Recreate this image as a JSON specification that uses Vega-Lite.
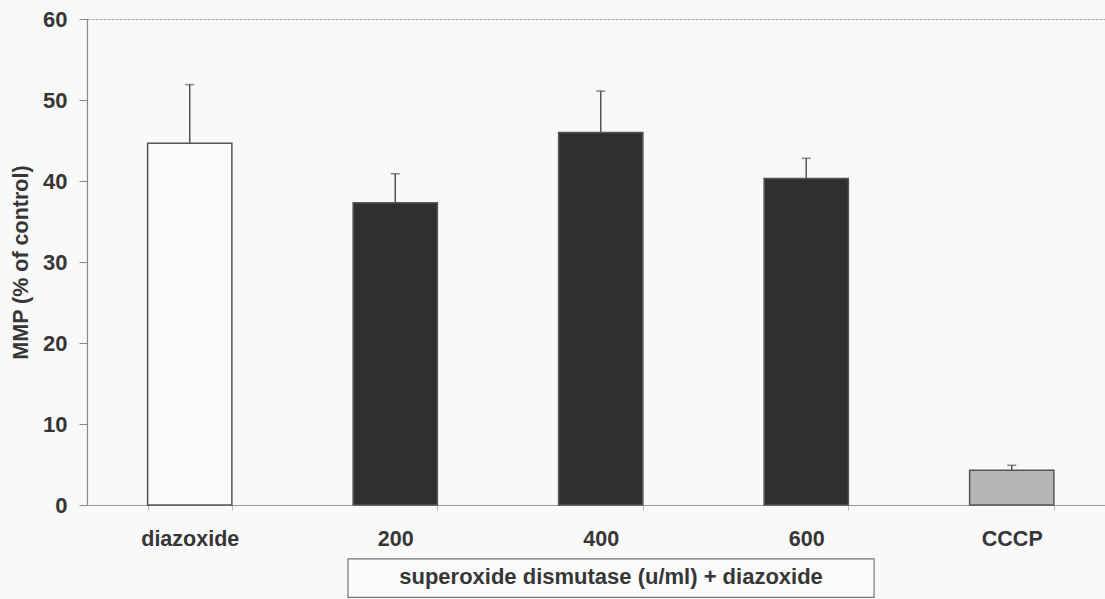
{
  "$schema": "https://vega.github.io/schema/vega-lite/v6.json",
  "autosize": "none",
  "width": 1018,
  "height": 486,
  "padding": {"left": 87, "top": 19, "right": 0, "bottom": 94},
  "background": "#f9f9f9",
  "config": {"view": {"stroke": null}, "font": "Liberation Sans"},
  "layer": [
    {
      "data": {"values": [
        {"group": "diazoxide", "kind": "diazoxide", "value": 44.65, "upper": 51.9},
        {"group": "200", "kind": "SOD", "value": 37.3, "upper": 40.9},
        {"group": "400", "kind": "SOD", "value": 46.0, "upper": 51.1},
        {"group": "600", "kind": "SOD", "value": 40.3, "upper": 42.8},
        {"group": "CCCP", "kind": "CCCP", "value": 4.3, "upper": 4.9}
      ]},
      "encoding": {
        "x": {"field": "group", "type": "nominal", "sort": null,
          "scale": {"range": [0, 1027.5], "paddingInner": 0.59, "paddingOuter": 0.295},
          "axis": {"title": null, "labelAngle": 0, "labelFontSize": 21.5, "labelFontWeight": "bold", "labelColor": "#363636",
            "labelPadding": 18, "tickSize": 5, "tickColor": "#bbbbbb", "tickBand": "extent", "domainColor": "#999999", "domainWidth": 1.2}}
      },
      "layer": [
        {
          "mark": {"type": "bar", "stroke": "#555555", "strokeWidth": 1.5},
          "encoding": {
            "y": {"field": "value", "type": "quantitative",
              "scale": {"domain": [0, 60], "nice": false},
              "axis": {"title": "MMP (% of control)", "titleFontSize": 21.5, "titleFontWeight": "bold", "titleColor": "#363636", "titlePadding": 10,
                "values": [0, 10, 20, 30, 40, 50, 60], "labelFontSize": 22, "labelFontWeight": "bold", "labelColor": "#363636", "labelPadding": 12,
                "tickSize": 8, "tickColor": "#888888", "domainColor": "#888888", "domainWidth": 1.2,
                "grid": true, "gridDash": [3, 1], "gridWidth": 1.2,
                "gridColor": {"condition": {"test": "datum.value == 60", "value": "#aaaaaa"}, "value": "transparent"}}},
            "fill": {"field": "kind", "type": "nominal", "scale": {"domain": ["diazoxide", "SOD", "CCCP"], "range": ["#fbfbfb", "#2f2f2f", "#b5b5b5"]}, "legend": null}
          }
        },
        {
          "mark": {"type": "rule", "color": "#555555", "strokeWidth": 1.5},
          "encoding": {
            "y": {"field": "value", "type": "quantitative"},
            "y2": {"field": "upper"}
          }
        },
        {
          "mark": {"type": "tick", "color": "#555555", "thickness": 1.5, "size": 9, "orient": "horizontal"},
          "encoding": {
            "y": {"field": "upper", "type": "quantitative"}
          }
        }
      ]
    },
    {
      "data": {"values": [{"x1": 1.27, "x2": 3.83, "y1": -6.65, "y2": -11.4, "xm": 2.55, "ym": -8.95, "label": "superoxide dismutase (u/ml) + diazoxide"}]},
      "encoding": {
        "x": {"field": "x1", "type": "quantitative", "scale": {"domain": [0, 5], "range": [0, 1027.5], "zero": false, "nice": false}, "axis": null}
      },
      "layer": [
        {
          "mark": {"type": "rect", "fill": "#fbfbfb", "stroke": "#777777", "strokeWidth": 1.2},
          "encoding": {
            "x2": {"field": "x2"},
            "y": {"field": "y1", "type": "quantitative"},
            "y2": {"field": "y2"}
          }
        },
        {
          "mark": {"type": "text", "fontSize": 22, "fontWeight": "bold", "color": "#363636", "baseline": "middle", "align": "center"},
          "encoding": {
            "x": {"field": "xm", "type": "quantitative"},
            "y": {"field": "ym", "type": "quantitative"},
            "text": {"field": "label"}
          }
        }
      ]
    }
  ],
  "resolve": {"scale": {"x": "independent"}}
}
